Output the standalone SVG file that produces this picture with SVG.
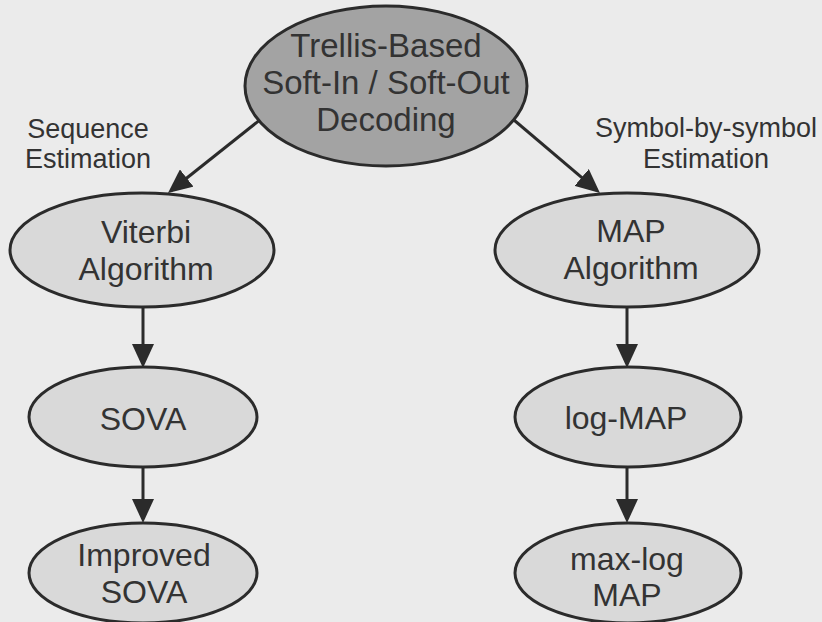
<svg xmlns="http://www.w3.org/2000/svg" width="822" height="622" viewBox="0 0 822 622">
  <defs>
    <style>
      .node { fill: #d9d9d9; stroke: #2b2b2b; stroke-width: 3; }
      .root { fill: #a3a3a3; stroke: #2b2b2b; stroke-width: 3; }
      .lbl { font-family: "Liberation Sans", Arial, sans-serif; font-size: 32px; fill: #333333; text-anchor: middle; }
      .root-lbl { font-size: 33px; }
      .edge-lbl { font-family: "Liberation Sans", Arial, sans-serif; font-size: 27px; fill: #333333; text-anchor: middle; }
      .edge { stroke: #2b2b2b; stroke-width: 3; fill: none; marker-end: url(#head); }
    </style>
    <marker id="head" viewBox="0 0 24 22" refX="20" refY="11" markerWidth="24" markerHeight="22" markerUnits="userSpaceOnUse" orient="auto">
      <path d="M0,0 L24,11 L0,22 Z" fill="#2b2b2b"/>
    </marker>
  </defs>

  <rect width="822" height="622" fill="#ebebeb"/>

  <!-- arrows between the decoding methods -->
  <g id="connectors">
    <line class="edge" x1="265" y1="115.8" x2="171.1" y2="190.5"/>
    <line class="edge" x1="508" y1="115" x2="596.9" y2="190.4"/>
    <line class="edge" x1="143" y1="300" x2="143" y2="364"/>
    <line class="edge" x1="143" y1="460" x2="143" y2="519"/>
    <line class="edge" x1="627" y1="300" x2="627" y2="364"/>
    <line class="edge" x1="627" y1="460" x2="627" y2="519"/>
  </g>

  <!-- branch labels -->
  <g id="label-sequence">
    <text class="edge-lbl" x="88" y="138">Sequence</text>
    <text class="edge-lbl" x="88" y="168">Estimation</text>
  </g>
  <g id="label-symbol">
    <text class="edge-lbl" x="706" y="137">Symbol-by-symbol</text>
    <text class="edge-lbl" x="706" y="168">Estimation</text>
  </g>

  <g id="trellis">
    <ellipse class="root" cx="386" cy="86" rx="141" ry="80"/>
    <text class="lbl root-lbl" x="386" y="57">Trellis-Based</text>
    <text class="lbl root-lbl" x="386" y="94">Soft-In / Soft-Out</text>
    <text class="lbl root-lbl" x="386" y="131">Decoding</text>
  </g>

  <g id="viterbi">
    <ellipse class="node" cx="142" cy="250" rx="132" ry="57"/>
    <text class="lbl" x="146" y="243">Viterbi</text>
    <text class="lbl" x="146" y="280">Algorithm</text>
  </g>
  <g id="sova">
    <ellipse class="node" cx="143" cy="417" rx="114" ry="50"/>
    <text class="lbl" x="143" y="430">SOVA</text>
  </g>
  <g id="improved-sova">
    <ellipse class="node" cx="143" cy="573" rx="114" ry="50"/>
    <text class="lbl" x="144" y="566">Improved</text>
    <text class="lbl" x="144" y="603">SOVA</text>
  </g>

  <g id="map">
    <ellipse class="node" cx="627" cy="250" rx="132" ry="57"/>
    <text class="lbl" x="631" y="242">MAP</text>
    <text class="lbl" x="631" y="279">Algorithm</text>
  </g>
  <g id="log-map">
    <ellipse class="node" cx="628" cy="417" rx="113" ry="50"/>
    <text class="lbl" x="626" y="429">log-MAP</text>
  </g>
  <g id="max-log-map">
    <ellipse class="node" cx="628" cy="573" rx="113" ry="50"/>
    <text class="lbl" x="627" y="570">max-log</text>
    <text class="lbl" x="627" y="606">MAP</text>
  </g>
</svg>
